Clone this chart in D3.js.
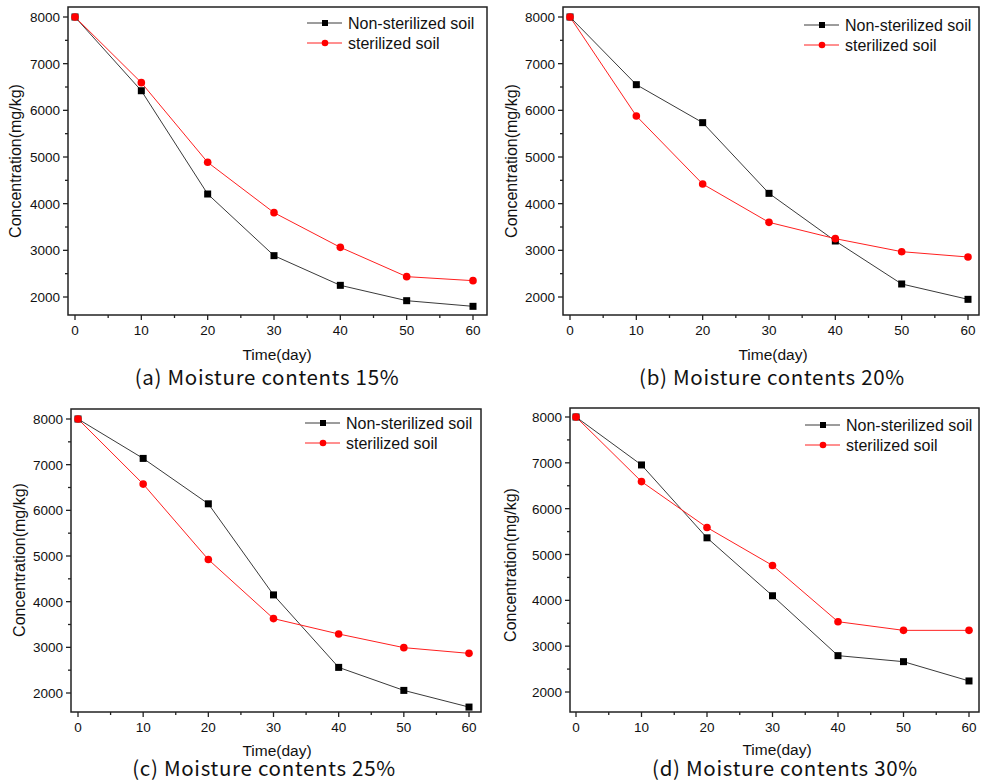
<!DOCTYPE html>
<html>
<head>
<meta charset="utf-8">
<script src="https://cdn.jsdelivr.net/npm/d3@7"></script>
<style>
  body { margin: 0; background: #fff; }
  svg { display: block; }
  text { font-family: "Liberation Sans", Arial, sans-serif; fill: #111; }
  .caption { font-family: "Noto Sans CJK KR", "Noto Sans", sans-serif; }
</style>
</head>
<body>
<div id="chart"></div>
<script>
//////////////////////////////////////////////////////////////////////////////
// Data

var days = [0, 10, 20, 30, 40, 50, 60];
var seriesNames = ["Non-sterilized soil", "sterilized soil"];
var yTicks = [2000, 3000, 4000, 5000, 6000, 7000, 8000];
var xTicks = [0, 10, 20, 30, 40, 50, 60];

var nonSter15 = [8000, 6420, 4207, 2886, 2250, 1921, 1800];
var ster15    = [8000, 6593, 4886, 3807, 3064, 2436, 2350];

var nonSter20 = [8000, 6550, 5736, 4221, 3200, 2279, 1950];
var ster20    = [8000, 5879, 4421, 3600, 3250, 2971, 2857];

var nonSter25 = [8000, 7137, 6143, 4148, 2561, 2057, 1692];
var ster25    = [8000, 6575, 4923, 3629, 3292, 2993, 2868];

var nonSter30 = [8000, 6954, 5364, 4100, 2793, 2662, 2241];
var ster30    = [8000, 6591, 5589, 4761, 3534, 3345, 3345];

var captions = ["(a) Moisture contents 15%", "(b) Moisture contents 20%",
                "(c) Moisture contents 25%", "(d) Moisture contents 30%"];

//////////////////////////////////////////////////////////////////////////////
// Panel layout (pixels)

var panels = [
    { box: [68, 7, 487, 315],   x: [75, 473],  y: [297, 17],  nonSter: nonSter15, ster: ster15,
      cap: [267, 385], xl: [277, 360], yl: [16, 161], leg: [307, 23] },
    { box: [563, 7, 979, 315],  x: [570, 968], y: [297, 17],  nonSter: nonSter20, ster: ster20,
      cap: [772, 385], xl: [773, 360], yl: [512, 161], leg: [804, 25] },
    { box: [71, 409, 481, 712], x: [78, 469],  y: [693, 419], nonSter: nonSter25, ster: ster25,
      cap: [264, 776], xl: [277, 756], yl: [20, 560], leg: [305, 423] },
    { box: [570, 408, 979, 712], x: [576, 969], y: [692, 417], nonSter: nonSter30, ster: ster30,
      cap: [785, 776], xl: [777, 755], yl: [511, 565], leg: [805, 425] }
];

var svg = d3.select("#chart")
    .append("svg")
    .attr("width", 981)
    .attr("height", 782);

var axisColor = "#222";
var blackLine = "#3a3a3a";

panels.forEach(function(p, i) {
    var g = svg.append("g");

    var xScale = d3.scaleLinear().domain([0, 60]).range(p.x);
    var yScale = d3.scaleLinear().domain([2000, 8000]).range(p.y);

    var left = p.box[0], top = p.box[1], right = p.box[2], bottom = p.box[3];

    // minor ticks
    var xMinor = d3.range(5, 60, 10);
    var yMinor = d3.range(2500, 8000, 1000);

    g.append("g").selectAll("line")
        .data(xTicks)
        .enter().append("line")
        .attr("x1", function(d) { return xScale(d); })
        .attr("x2", function(d) { return xScale(d); })
        .attr("y1", bottom).attr("y2", bottom + 5)
        .attr("stroke", axisColor).attr("stroke-width", 1.3);

    g.append("g").selectAll("line")
        .data(xMinor)
        .enter().append("line")
        .attr("x1", function(d) { return xScale(d); })
        .attr("x2", function(d) { return xScale(d); })
        .attr("y1", bottom).attr("y2", bottom + 3)
        .attr("stroke", axisColor).attr("stroke-width", 1.3);

    g.append("g").selectAll("line")
        .data(yTicks)
        .enter().append("line")
        .attr("y1", function(d) { return yScale(d); })
        .attr("y2", function(d) { return yScale(d); })
        .attr("x1", left - 5).attr("x2", left)
        .attr("stroke", axisColor).attr("stroke-width", 1.3);

    g.append("g").selectAll("line")
        .data(yMinor)
        .enter().append("line")
        .attr("y1", function(d) { return yScale(d); })
        .attr("y2", function(d) { return yScale(d); })
        .attr("x1", left - 3).attr("x2", left)
        .attr("stroke", axisColor).attr("stroke-width", 1.3);

    // tick labels
    g.append("g").selectAll("text")
        .data(xTicks)
        .enter().append("text")
        .attr("x", function(d) { return xScale(d); })
        .attr("y", bottom + 20)
        .attr("text-anchor", "middle")
        .style("font-size", "13.5px")
        .text(function(d) { return d; });

    g.append("g").selectAll("text")
        .data(yTicks)
        .enter().append("text")
        .attr("x", left - 8)
        .attr("y", function(d) { return yScale(d) + 5; })
        .attr("text-anchor", "end")
        .style("font-size", "13.5px")
        .text(function(d) { return d; });

    // frame
    g.append("rect")
        .attr("x", left).attr("y", top)
        .attr("width", right - left).attr("height", bottom - top)
        .attr("fill", "none")
        .attr("stroke", axisColor)
        .attr("stroke-width", 1.5);

    // lines
    var line = d3.line()
        .x(function(d, j) { return xScale(days[j]); })
        .y(function(d) { return yScale(d); });

    g.append("path")
        .attr("d", line(p.nonSter))
        .attr("fill", "none")
        .attr("stroke", blackLine)
        .attr("stroke-width", 1);

    g.append("path")
        .attr("d", line(p.ster))
        .attr("fill", "none")
        .attr("stroke", "#ff2020")
        .attr("stroke-width", 1);

    g.append("g").selectAll("rect")
        .data(p.nonSter)
        .enter().append("rect")
        .attr("x", function(d, j) { return xScale(days[j]) - 3.5; })
        .attr("y", function(d) { return yScale(d) - 3.5; })
        .attr("width", 7).attr("height", 7)
        .attr("fill", "#000");

    g.append("g").selectAll("circle")
        .data(p.ster)
        .enter().append("circle")
        .attr("cx", function(d, j) { return xScale(days[j]); })
        .attr("cy", function(d) { return yScale(d); })
        .attr("r", 3.8)
        .attr("fill", "#ff0000");

    // legend
    var lx = p.leg[0], ly = p.leg[1];
    var leg = g.append("g");
    leg.append("line")
        .attr("x1", lx).attr("x2", lx + 35)
        .attr("y1", ly).attr("y2", ly)
        .attr("stroke", blackLine).attr("stroke-width", 1);
    leg.append("rect")
        .attr("x", lx + 15).attr("y", ly - 3)
        .attr("width", 6).attr("height", 6)
        .attr("fill", "#000");
    leg.append("text")
        .attr("x", lx + 41).attr("y", ly + 6)
        .style("font-size", "16px")
        .text(seriesNames[0]);

    leg.append("line")
        .attr("x1", lx).attr("x2", lx + 35)
        .attr("y1", ly + 20).attr("y2", ly + 20)
        .attr("stroke", "#ff2020").attr("stroke-width", 1);
    leg.append("circle")
        .attr("cx", lx + 18).attr("cy", ly + 20)
        .attr("r", 3.3)
        .attr("fill", "#ff0000");
    leg.append("text")
        .attr("x", lx + 41).attr("y", ly + 26)
        .style("font-size", "16px")
        .text(seriesNames[1]);

    // axis titles
    g.append("text")
        .attr("x", p.xl[0]).attr("y", p.xl[1])
        .attr("text-anchor", "middle")
        .style("font-size", "15.5px")
        .text("Time(day)");

    g.append("text")
        .attr("transform", "translate(" + (p.yl[0] + 5) + "," + p.yl[1] + ") rotate(-90)")
        .attr("text-anchor", "middle")
        .style("font-size", "16px")
        .text("Concentration(mg/kg)");

    g.append("text")
        .attr("class", "caption")
        .attr("x", p.cap[0]).attr("y", p.cap[1])
        .attr("text-anchor", "middle")
        .style("font-size", "20.5px")
        .style("letter-spacing", "0.7px")
        .text(captions[i]);
});
</script>
</body>
</html>
